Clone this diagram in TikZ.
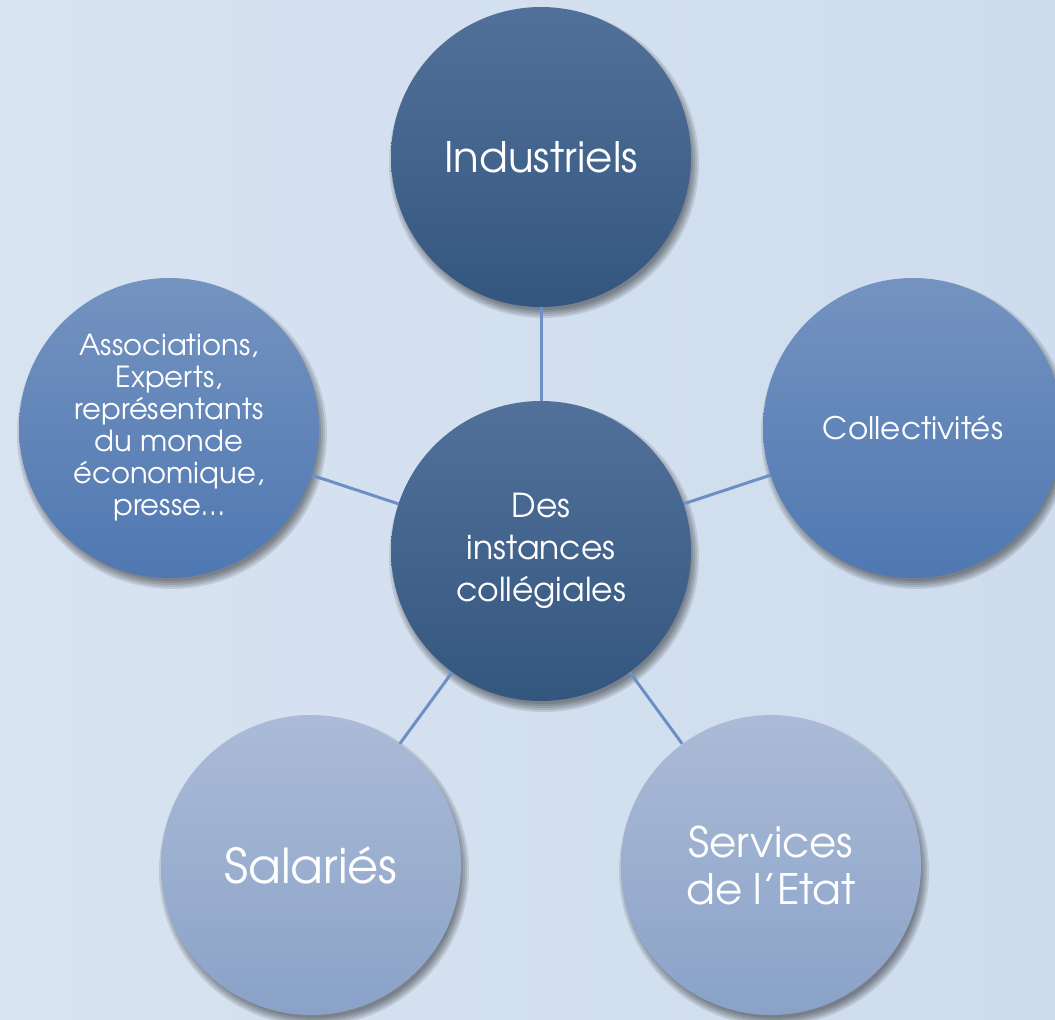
\documentclass[tikz,border=0pt]{standalone}
\usepackage{fontspec}
\setmainfont{texgyreadventor-regular.otf}
\definecolor{bgL}{HTML}{D8E3F1}
\definecolor{bgR}{HTML}{CEDCED}
\definecolor{darkT}{HTML}{52719A}
\definecolor{darkB}{HTML}{33567F}
\definecolor{midT}{HTML}{7493C0}
\definecolor{midB}{HTML}{4F78B2}
\definecolor{lightT}{HTML}{ABBBD7}
\definecolor{lightB}{HTML}{8AA2C8}
\definecolor{linkc}{HTML}{6D90C4}
\pgfdeclarelayer{back}
\pgfsetlayers{back,main}
\tikzset{
  bubble/.style={circle, minimum size=300pt, inner sep=0pt, align=center, text=white},
  darkbub/.style={bubble, top color=darkT, bottom color=darkB},
  midbub/.style={bubble, top color=midT, bottom color=midB},
  lightbub/.style={bubble, top color=lightT, bottom color=lightB},
  link/.style={draw=linkc, line width=3pt},
  shadowring/.style={fill=black, fill opacity=0.1}
}
\begin{document}
\begin{tikzpicture}[x=1pt, y=-1pt]
\begin{pgfonlayer}{back}
\shade[left color=bgL, right color=bgR] (0,0) rectangle (1055,1020);
\end{pgfonlayer}
\useasboundingbox (0,0) rectangle (1055,1020);
\node[darkbub, font=\fontsize{42}{46}\selectfont] (ind) at (541,157) {Industriels};
\node[darkbub, font=\fontsize{33}{42}\selectfont] (ctr) at (541,551) {Des\\instances\\collégiales};
\node[midbub, font=\fontsize{31}{34}\selectfont] (coll) at (913,428) {Collectivités};
\node[midbub, font=\fontsize{29}{32}\selectfont] (asso) at (169,428) {Associations,\\Experts,\\représentants\\du monde\\économique,\\presse…};
\node[lightbub, font=\fontsize{48}{52}\selectfont] (sal) at (311,865) {Salariés};
\node[lightbub, font=\fontsize{42}{47}\selectfont] (serv) at (771,865) {Services\\de l’Etat};
\begin{pgfonlayer}{back}
\foreach \n in {ind,ctr,coll,asso,sal,serv}{
  \foreach \r in {155,153,151,149,147}{
    \fill[shadowring] ([shift={(3,6)}]\n.center) circle[radius=\r pt];
  }
}
\draw[link] (ctr) -- (ind);
\draw[link] (ctr) -- (coll);
\draw[link] (ctr) -- (asso);
\draw[link] (ctr) -- (sal);
\draw[link] (ctr) -- (serv);
\end{pgfonlayer}
\end{tikzpicture}
\end{document}
